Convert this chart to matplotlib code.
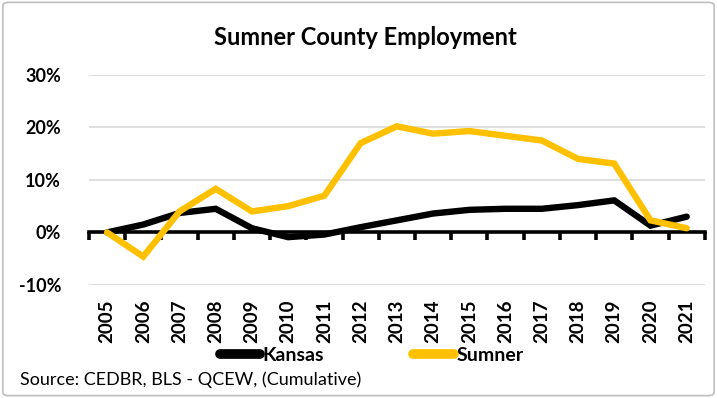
"""Sumner County employment, cumulative change."""
import numpy as np
import matplotlib
matplotlib.use('Agg')
import matplotlib.pyplot as plt
from matplotlib.patches import FancyBboxPatch
from matplotlib.transforms import blended_transform_factory

plt.rcParams['font.family'] = ['Lato', 'DejaVu Sans']

years = ['2005', '2006', '2007', '2008', '2009', '2010', '2011', '2012', '2013',
         '2014', '2015', '2016', '2017', '2018', '2019', '2020', '2021']
kansas = [0.0, 1.5, 3.7, 4.5, 0.8, -0.9, -0.4, 1.0, 2.3, 3.6, 4.3, 4.5, 4.5, 5.2, 6.1, 1.3, 3.0]
sumner = [0.0, -4.6, 4.0, 8.3, 4.0, 5.0, 7.0, 17.0, 20.2, 18.8, 19.3, 18.4, 17.5, 14.0, 13.1, 2.3, 0.8]
yticks = [-10, 0, 10, 20, 30]

fig = plt.figure(figsize=(7.17, 3.98), dpi=100)
fig.patches.append(FancyBboxPatch((0.004, 0.006), 0.992, 0.988,
                                  boxstyle='round,pad=0,rounding_size=0.008',
                                  transform=fig.transFigure, fill=False,
                                  edgecolor='#bfbfbf', linewidth=1.2))

ax = fig.add_axes([0.124, 0.284, 0.859, 0.528])
x = np.arange(len(years))

ax.plot(x, kansas, color='black', lw=4.6, solid_capstyle='round',
        solid_joinstyle='miter', label='Kansas', zorder=3)
ax.plot(x, sumner, color='#FFC000', lw=4.6, solid_capstyle='round',
        solid_joinstyle='miter', label='Sumner', zorder=4)

ax.set_xlim(-0.5, len(years) - 0.5)
ax.set_ylim(-10, 30)
ax.set_yticks(yticks)
ax.set_yticklabels(['{}%'.format(v) for v in yticks], fontsize=13, fontweight='bold')
ax.tick_params(axis='y', length=0, pad=20)
ax.grid(axis='y', color='#d9d9d9', lw=1.2)
ax.set_axisbelow(True)

for s in ['top', 'right', 'left']:
    ax.spines[s].set_visible(False)
ax.spines['bottom'].set_position(('data', 0))
ax.spines['bottom'].set_linewidth(2.6)
ax.spines['bottom'].set_zorder(2)
ax.set_xticks(np.arange(len(years) + 1) - 0.5)
ax.set_xticklabels([])
ax.tick_params(axis='x', direction='out', length=6, width=2.6)

trans = blended_transform_factory(ax.transData, ax.transAxes)
for i, yr in enumerate(years):
    ax.text(i, -0.07, yr, transform=trans, rotation=90, ha='center', va='top',
            fontsize=13.5, fontweight='bold')

fig.text(0.509, 0.905, 'Sumner County Employment', ha='center', va='center',
         fontsize=17, fontweight='bold')

leg = fig.legend(loc='center', bbox_to_anchor=(0.518, 0.108), ncol=2, frameon=False,
                 handlelength=2.1, handletextpad=0.1, columnspacing=4.6,
                 prop={'size': 14, 'weight': 'bold'})
for h in leg.legend_handles:
    h.set_linewidth(7)

fig.text(0.028, 0.045, 'Source: CEDBR, BLS - QCEW, (Cumulative)', ha='left', va='center',
         fontsize=13)

fig.savefig('out.png', dpi=100)
